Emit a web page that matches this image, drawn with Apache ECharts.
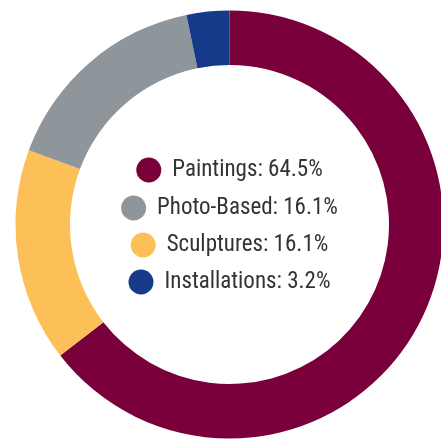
<!DOCTYPE html>
<html>
<head>
<meta charset="utf-8">
<script src="https://cdn.jsdelivr.net/npm/echarts@6/dist/echarts.min.js"></script>
<style>
  html, body { margin: 0; padding: 0; background: #fff; }
  #chart { width: 441px; height: 439px; }
</style>
</head>
<body>
<div id="chart"></div>
<script>
// slices, clockwise from 12 o'clock
const categories = ['Paintings', 'Sculptures', 'Photo-Based', 'Installations'];
const counts = [20, 5, 5, 1];
const colors = ['#7a003c', '#fdbf57', '#8f969b', '#163a8a'];
// legend order (top to bottom) and row centres
const legendOrder = ['Paintings', 'Photo-Based', 'Sculptures', 'Installations'];
const legendRows = [170, 208, 245, 282];

const FONT = 'Roboto Condensed';
const FONT_SIZE = 23;
const ICON = 25;
const TEXT_PAD = 6;
const CX = 229.5, CY = 224.5;

const total = counts.reduce((a, b) => a + b, 0);
const pct = {};
categories.forEach((c, i) => { pct[c] = (counts[i] / total * 100).toFixed(1); });
const labelOf = n => n + ': ' + pct[n] + '%';

// measure text so each legend row can be centred on the ring's centre
const ctx = document.createElement('canvas').getContext('2d');
ctx.font = FONT_SIZE + 'px "' + FONT + '"';

const chart = echarts.init(document.getElementById('chart'));

const legends = legendOrder.map((name, i) => {
    const w = ICON + 5 + TEXT_PAD + ctx.measureText(labelOf(name)).width;
    return {
        data: [name],
        left: CX - w / 2,
        top: legendRows[i] - ICON / 2,
        padding: 0,
        icon: 'circle',
        itemWidth: ICON,
        itemHeight: ICON,
        itemGap: 0,
        selectedMode: false,
        formatter: labelOf,
        textStyle: {
            fontFamily: FONT,
            fontSize: FONT_SIZE,
            color: '#333333',
            padding: [0, 0, 0, TEXT_PAD]
        }
    };
});

chart.setOption({
    animation: false,
    legend: legends,
    series: [{
        type: 'pie',
        center: [CX, CY],
        radius: [159.5, 214],
        startAngle: 90,
        clockwise: true,
        label: { show: false },
        labelLine: { show: false },
        emphasis: { disabled: true },
        data: categories.map((c, i) => ({
            name: c,
            value: counts[i],
            itemStyle: { color: colors[i] }
        }))
    }]
});
</script>
</body>
</html>
